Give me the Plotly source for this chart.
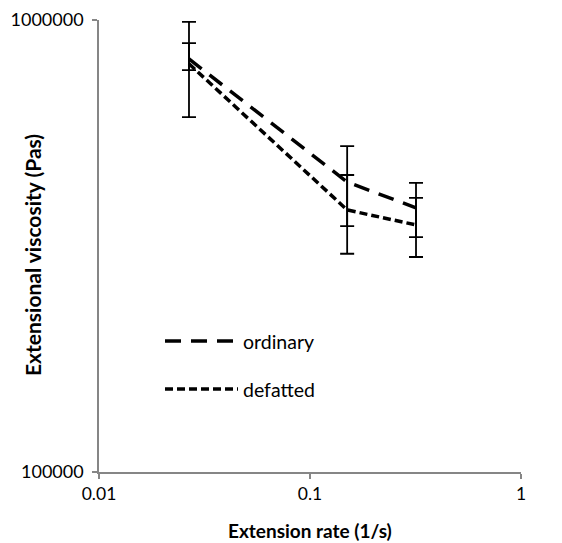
import plotly.graph_objects as go

# Data
rate = [0.0267, 0.15, 0.318]            # extension rate (1/s)
ordinary = [820000, 438000, 384000]     # extensional viscosity (Pas)
defatted = [800000, 380000, 352000]

# error bar limits (upper / lower values)
ordinary_hi = [889000, 454000, 404000]
ordinary_lo = [775000, 350000, 331000]
defatted_hi = [990000, 526000, 436000]
defatted_lo = [610000, 304000, 299000]

x_ticks = [0.01, 0.1, 1]
x_ticktext = ["0.01", "0.1", "1"]
y_ticks = [100000, 1000000]
y_ticktext = ["100000", "1000000"]

series_names = ["ordinary", "defatted"]
x_title = "Extension rate (1/s)"
y_title = "Extensional viscosity (Pas)"

FONT = "Lato, 'Open Sans', sans-serif"
AX = "#868686"

L, R, T, B = 99, 41, 20, 71
W, H = 562, 543
PW, PH = W - L - R, H - T - B

fig = go.Figure()


def add_series(y, hi, lo, name, dash):
    fig.add_trace(go.Scatter(
        x=rate, y=y, mode="lines", name=name,
        line=dict(color="black", width=3.5, dash=dash),
        error_y=dict(type="data", symmetric=False,
                     array=[h - v for h, v in zip(hi, y)],
                     arrayminus=[v - l for v, l in zip(y, lo)],
                     color="black", thickness=1.8, width=7),
        showlegend=False,
    ))


add_series(ordinary, ordinary_hi, ordinary_lo, series_names[0], "16px,10px")
add_series(defatted, defatted_hi, defatted_lo, series_names[1], "8px,4px")

fig.update_layout(
    width=W, height=H,
    margin=dict(l=L, r=R, t=T, b=B, autoexpand=False),
    paper_bgcolor="white", plot_bgcolor="white",
    font=dict(family=FONT, color="black", size=18),
    xaxis=dict(type="log", range=[-2, 0], tickvals=x_ticks, ticktext=x_ticktext,
               showgrid=False, zeroline=False, showline=True, linecolor=AX, linewidth=1.5,
               ticks="outside", tickcolor=AX, ticklen=5, tickwidth=1.5,
               tickfont=dict(size=17.5), automargin=False, ticklabelstandoff=0),
    yaxis=dict(type="log", range=[5, 6], tickvals=y_ticks, ticktext=y_ticktext,
               showgrid=False, zeroline=False, showline=True, linecolor=AX, linewidth=1.5,
               ticks="outside", tickcolor=AX, ticklen=5, tickwidth=1.5,
               tickfont=dict(size=18), automargin=False, ticklabelstandoff=5),
)


def px_x(px):
    return (px - L) / PW


def px_y(py):
    return 1 - (py - T) / PH


# axis titles
fig.add_annotation(xref="paper", yref="paper", x=px_x(310), y=px_y(530),
                   text="<b>" + x_title + "</b>", showarrow=False,
                   xanchor="center", yanchor="middle", font=dict(size=19))
fig.add_annotation(xref="paper", yref="paper", x=px_x(32), y=px_y(255),
                   text="<b>" + y_title + "</b>", showarrow=False, textangle=-90,
                   xanchor="center", yanchor="middle", font=dict(size=21))

# legend drawn inside the plot area
legend_rows = [(series_names[0], "16px,10px", 341), (series_names[1], "8px,4px", 389)]
for name, dash, ypx in legend_rows:
    fig.add_shape(type="line", xref="paper", yref="paper",
                  x0=px_x(165), x1=px_x(238), y0=px_y(ypx), y1=px_y(ypx),
                  line=dict(color="black", width=3.5, dash=dash))
    fig.add_annotation(xref="paper", yref="paper", x=px_x(241), y=px_y(ypx),
                       text=name, showarrow=False, xanchor="left", yanchor="middle",
                       font=dict(size=19.5, family=FONT))

fig.write_html("out.html")
